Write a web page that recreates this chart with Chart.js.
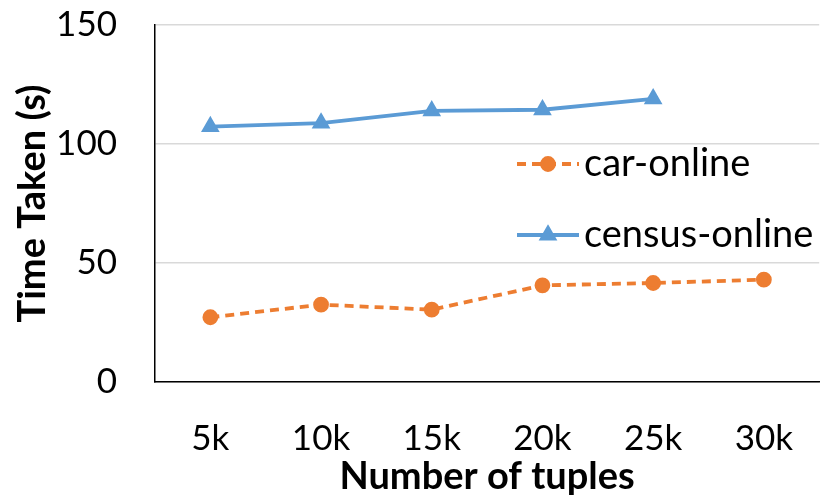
<!DOCTYPE html>
<html>
<head>
<meta charset="utf-8">
<script src="https://cdn.jsdelivr.net/npm/chart.js@4/dist/chart.umd.min.js"></script>
<style>
  html, body { margin: 0; padding: 0; background: #fff; }
  #wrap { width: 830px; height: 498px; }
</style>
</head>
<body>
<div id="wrap"><canvas id="chartTuples" width="830" height="498"></canvas></div>
<script>
// ===== DATA =====
const tuples = ['5k', '10k', '15k', '20k', '25k', '30k']
const carOnline = [27.2, 32.5, 30.4, 40.6, 41.6, 43.0]
const censusOnline = [107.3, 108.8, 113.9, 114.4, 119.0, null]
const yTicks = [0, 50, 100, 150]

const orange = '#ED7D31'
const blue = '#5B9BD5'
const police = 'Lato'

// ===== LEGENDE DANS LA ZONE =====
const legendeInterne = {
    id: 'legendeInterne',
    afterDraw(chart) {
        const ctx = chart.ctx
        const x0 = 517, x1 = 579
        const lignes = [164, 235]
        chart.data.datasets.forEach((ds, i) => {
            const y = lignes[i]
            ctx.save()
            ctx.strokeStyle = ds.borderColor
            ctx.lineWidth = ds.borderWidth
            ctx.setLineDash(ds.borderDash || [])
            ctx.beginPath()
            ctx.moveTo(x0, y)
            ctx.lineTo(x1, y)
            ctx.stroke()
            ctx.setLineDash([])
            ctx.fillStyle = ds.pointBackgroundColor
            ctx.strokeStyle = ds.pointBorderColor
            Chart.helpers.drawPoint(ctx, {
                pointStyle: ds.pointStyle,
                radius: ds.pointRadius,
                borderWidth: 1
            }, (x0 + x1) / 2, y)
            ctx.fillStyle = '#000'
            ctx.font = '38px ' + police
            ctx.textBaseline = 'middle'
            ctx.fillText(ds.label, x1 + 5, y)
            ctx.restore()
        })
    }
}

// ===== GRAPHIQUE =====
new Chart(document.getElementById('chartTuples'), {
    type: 'line',
    data: {
        labels: tuples,
        datasets: [{
            label: 'car-online',
            data: carOnline,
            borderColor: orange,
            backgroundColor: orange,
            borderWidth: 3.8,
            borderDash: [9, 6],
            pointStyle: 'circle',
            pointRadius: 6,
            pointBackgroundColor: orange,
            pointBorderColor: orange,
            tension: 0
        }, {
            label: 'census-online',
            data: censusOnline,
            borderColor: blue,
            backgroundColor: blue,
            borderWidth: 3.8,
            pointStyle: 'triangle',
            pointRadius: 7,
            pointBackgroundColor: blue,
            pointBorderColor: blue,
            tension: 0
        }]
    },
    options: {
        responsive: false,
        animation: false,
        layout: { padding: { top: 25, right: -6, left: 0, bottom: 0 } },
        plugins: { legend: { display: false }, tooltip: { enabled: false } },
        scales: {
            x: {
                offset: true,
                grid: { display: false },
                border: { color: '#000', width: 1.5 },
                ticks: { color: '#000', padding: 28, font: { family: police, size: 35 } },
                title: {
                    display: true, text: 'Number of tuples', color: '#000',
                    font: { family: police, size: 38, weight: 'bold', lineHeight: 1.1 },
                    padding: { top: 0, bottom: 0 }
                },
                afterFit(s) {
                    s.height = 116
                    s.paddingLeft = 0
                    s.paddingRight = 0
                }
            },
            y: {
                min: 0, max: 150,
                afterBuildTicks(s) { s.ticks = yTicks.map(v => ({ value: v })) },
                grid: { color: '#D9D9D9', lineWidth: 1.5, drawTicks: false },
                border: { color: '#000', width: 1.5 },
                ticks: { color: '#000', padding: 38, font: { family: police, size: 35 } },
                title: {
                    display: true, text: 'Time Taken (s)', color: '#000',
                    font: { family: police, size: 38, weight: 'bold' },
                    padding: { top: 10, bottom: 0 }
                },
                afterFit(s) {
                    s.width = 155
                    s.paddingTop = 0
                    s.paddingBottom = 0
                }
            }
        }
    },
    plugins: [legendeInterne]
})
</script>
</body>
</html>
